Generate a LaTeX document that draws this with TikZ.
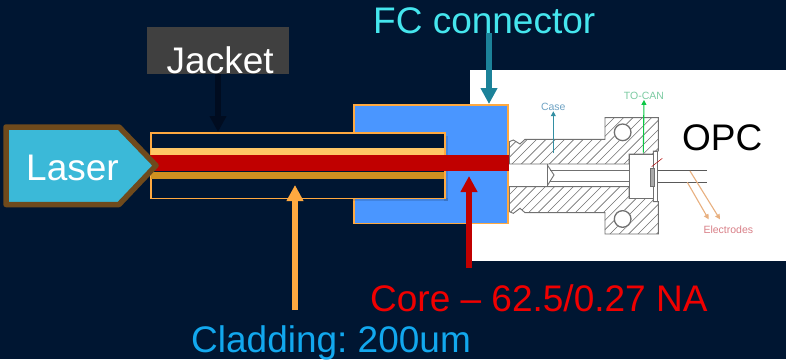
\documentclass[tikz,border=0pt]{standalone}
\usepackage{fontspec}
\setmainfont{Liberation Sans}
\usetikzlibrary{arrows.meta}
\definecolor{bgnavy}{HTML}{001632}
\definecolor{jackgrey}{HTML}{404040}
\definecolor{jackarrow}{HTML}{000C20}
\definecolor{orangeln}{HTML}{FFA940}
\definecolor{cladlight}{HTML}{FFC766}
\definecolor{claddark}{HTML}{D09020}
\definecolor{corered}{HTML}{C00000}
\definecolor{fcblue}{HTML}{4A96FF}
\definecolor{teal}{HTML}{1C8299}
\definecolor{laserfill}{HTML}{3BB9D8}
\definecolor{laserline}{HTML}{6F4A1C}
\definecolor{fccyan}{HTML}{45E6EE}
\definecolor{cladtext}{HTML}{12A8EE}
\definecolor{pureRed}{HTML}{F00000}
\definecolor{hatch}{HTML}{707070}
\definecolor{caseblue}{HTML}{6FA3C4}
\definecolor{cangreen}{HTML}{7CCBA2}
\definecolor{elecred}{HTML}{D98088}
\definecolor{leadorange}{HTML}{E8B080}
\tikzset{
  lbl/.style={anchor=base west,inner sep=0pt,font=\fontsize{37}{40}\selectfont},
  callout/.style={line width=5.5pt,-{Triangle[length=16pt,width=16pt]}},
  draft/.style={draw=hatch,line width=0.9pt},
  smalltxt/.style={inner sep=0pt,font=\fontsize{10.5}{12}\selectfont},
  thinarrow/.style={line width=1.1pt,-{Triangle[length=5pt,width=5pt]}},
}
\begin{document}
\frenchspacing
\begin{tikzpicture}[x=1pt,y=-1pt]
\useasboundingbox (0,0) rectangle (786,359);
\fill[bgnavy] (0,0) rectangle (786,359);
% OPC picture
\fill[white] (470,70) rectangle (786,261);
\begin{scope}[shift={(470,70)},x=0.3333pt,y=-0.3333pt]
  \def\upperbody{(118,215) -- (130,210) -- (150,222) -- (165,208) -- (405,208) -- (405,143) -- (565,143) -- (565,243) -- (550,243) -- (550,252) -- (477,252) -- (477,282) -- (232,282) -- (118,282) -- cycle}
  \def\lowerbody{(118,350) -- (477,350) -- (477,385) -- (550,385) -- (550,395) -- (565,395) -- (565,492) -- (405,492) -- (405,428) -- (165,428) -- (150,415) -- (130,430) -- (118,425) -- cycle}
  \begin{scope}
    \clip \upperbody;
    \foreach \i in {-420,-392,...,700}{\draw[hatch,line width=0.6pt] (\i,520) -- (\i+420,100);}
  \end{scope}
  \begin{scope}
    \clip \lowerbody;
    \foreach \i in {-420,-392,...,700}{\draw[hatch,line width=0.6pt] (\i,520) -- (\i+420,100);}
  \end{scope}
  \draw[draft] \upperbody;
  \draw[draft] \lowerbody;
  \fill[white] (458,187) circle (27);
  \draw[draft,line width=1.3pt] (458,187) circle (25);
  \fill[white] (458,447) circle (27);
  \draw[draft,line width=1.3pt] (458,447) circle (25);
  \draw[draft] (232,282) -- (232,350);
  \draw[draft] (232,285) -- (252,315) -- (232,347);
  \draw[draft] (240,300) -- (477,300);
  \draw[draft] (240,333) -- (477,333);
  \draw[draft,fill=white] (477,252) rectangle (550,385);
  \draw[draft,fill=white] (550,243) rectangle (563,395);
  \draw[draft,fill=hatch!60] (541,295) rectangle (553,350);
  \draw[draw=black!65,line width=0.9pt] (565,300) -- (710,300);
  \draw[draw=black!65,line width=0.9pt] (565,337) -- (710,337);
  \draw[red!70!black,line width=0.5pt] (545,290) -- (577,265);
  \node[smalltxt,text=caseblue] (caselbl) at (250,112) {Case};
  \coordinate (casefoot) at (250,250);
  \draw[thinarrow,teal!90] (casefoot) -- (caselbl.south);
  \node[smalltxt,text=cangreen] (tocanlbl) at (522,78) {TO-CAN};
  \coordinate (tocanfoot) at (520,248);
  \draw[thinarrow,green!55!teal] (tocanfoot) -- (tocanlbl.south);
  \node[smalltxt,text=elecred] (electlbl) at (775,478) {Electrodes};
  \coordinate (leadA) at (660,303);
  \coordinate (leadB) at (652,337);
  \coordinate (tipA) at (750,448);
  \coordinate (tipB) at (716,448);
  \draw[thinarrow,leadorange] (leadA) -- (tipA);
  \draw[thinarrow,leadorange] (leadB) -- (tipB);
\end{scope}
% FC connector
\node[draw=orangeln,line width=1.5pt,fill=fcblue,inner sep=0pt,minimum width=154pt,minimum height=118.5pt,anchor=north west] (fcbox) at (353,104) {};
% Fibre
\fill[black,opacity=0.12] (444,136) rectangle (448,201);
\fill[black,opacity=0.12] (353,198) rectangle (448,201);
\node[draw=orangeln,line width=1.5pt,fill=bgnavy,inner sep=0pt,minimum width=294pt,minimum height=65.5pt,anchor=north west] (jacket) at (150,132) {};
\fill[cladlight] (151,148) rectangle (443.5,155);
\fill[claddark] (151,172) rectangle (443.5,179);
\node[fill=corered,inner sep=0pt,minimum width=359pt,minimum height=16pt,anchor=north west] (core) at (150,155) {};
% Laser
\draw[laserline,fill=laserfill,line width=5.5pt,line join=round] (6,127) -- (119,127) -- (156,165.5) -- (119,204.5) -- (6,204.5) -- cycle;
\node[lbl,text=white] (laser) at (26,180) {Laser};
% Jacket
\fill[jackgrey] (147,27) rectangle (289,74);
\node[lbl,text=white] (jacketlbl) at (166.5,73) {Jacket};
\coordinate (jacktop) at (218,132);
\coordinate (jackstart) at (218,74);
\draw[callout,jackarrow] (jackstart) -- (jacktop);
% FC label
\node[lbl,text=fccyan] (fclbl) at (373,33) {FC connector};
\coordinate (fctop) at (489,104);
\coordinate (fcstart) at (489,33);
\draw[callout,teal] (fcstart) -- (fctop);
% Cladding
\node[lbl,text=cladtext] (cladlbl) at (191,352) {Cladding: 200um};
\coordinate (cladtip) at (295,185);
\coordinate (cladstart) at (295,310);
\draw[callout,orangeln] (cladstart) -- (cladtip);
% Core
\node[lbl,text=pureRed] (corelbl) at (370,311) {Core – 62.5/0.27 NA};
\coordinate (coretip) at (469,176);
\coordinate (corestart) at (469,268);
\draw[callout,corered] (corestart) -- (coretip);
% OPC
\node[lbl,text=black] (opclbl) at (682,150) {OPC};
\end{tikzpicture}
\end{document}
